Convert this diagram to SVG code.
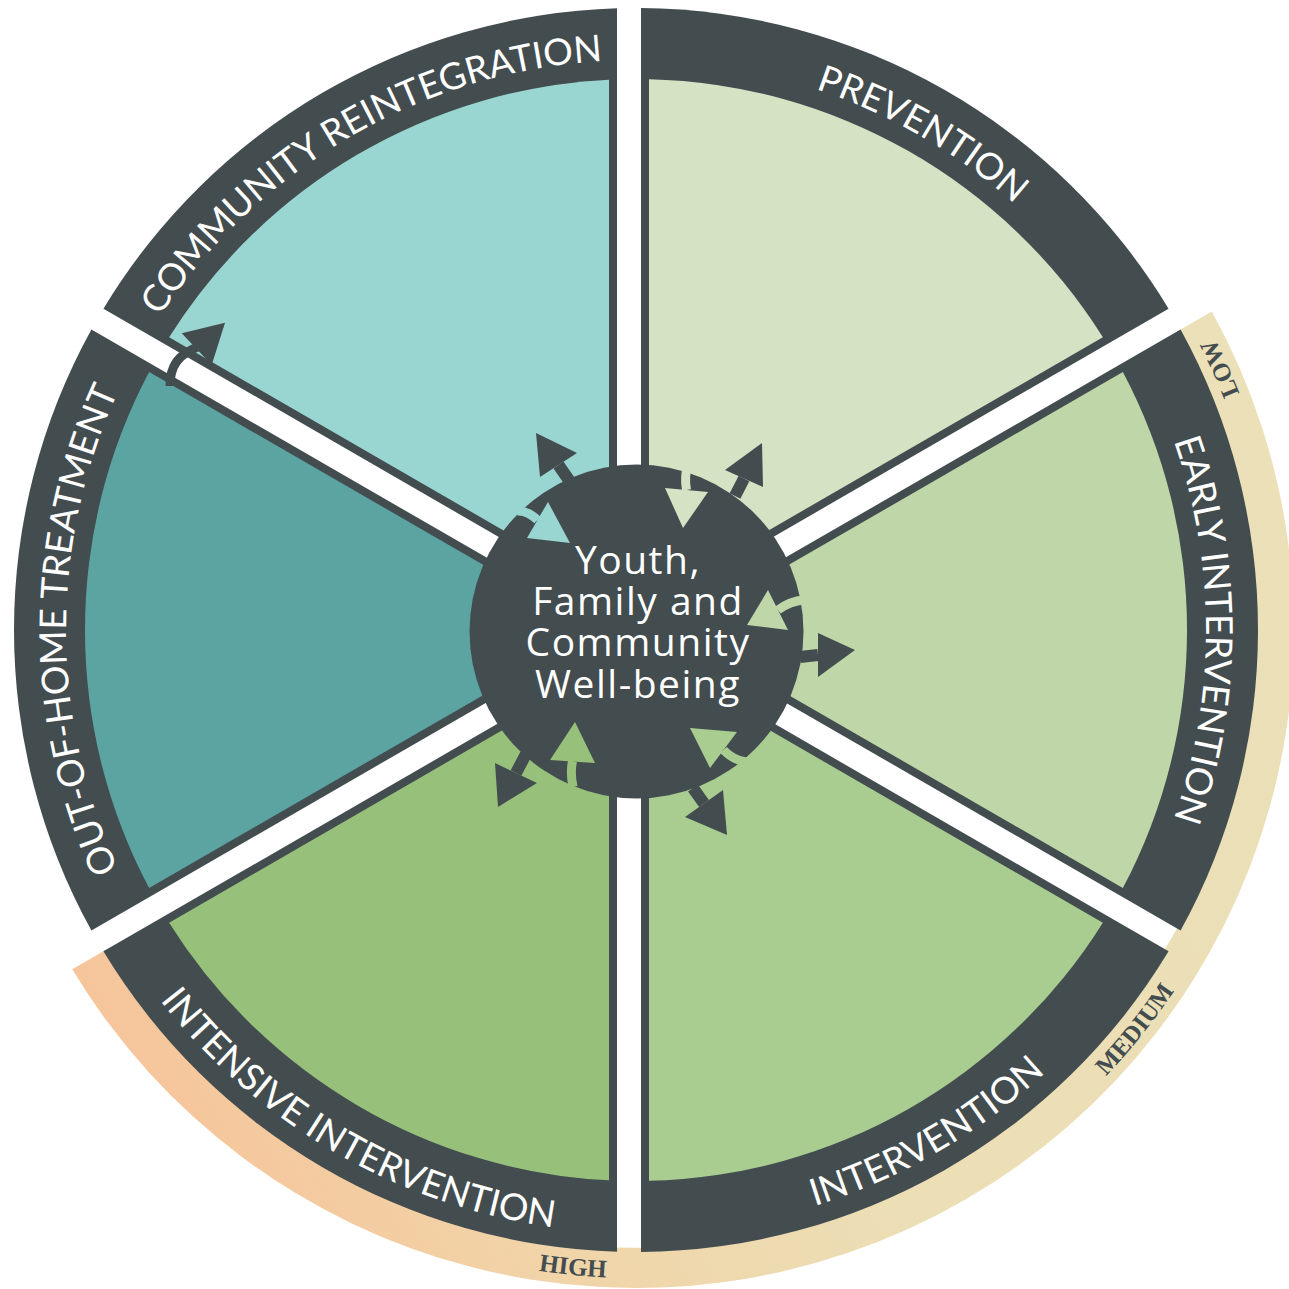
<svg xmlns="http://www.w3.org/2000/svg" xmlns:xlink="http://www.w3.org/1999/xlink" width="1289" height="1289" viewBox="0 0 1289 1289">
  <defs>
    <style>
      .dk{fill:#434D50}
      .lbl{font-family:Lato,"Open Sans","Liberation Sans",sans-serif;font-size:37px;fill:#fff}
      .lvl{font-family:"Liberation Serif",serif;font-weight:bold;font-size:25px;fill:#434D50}
      .ctr{font-family:"Open Sans","Noto Sans",sans-serif;font-weight:500;font-size:39px;fill:#fff;text-anchor:middle;letter-spacing:1.5px}
      .shaft{fill:none;stroke-width:9;stroke-linecap:butt}
    </style>
    <linearGradient id="bandGrad" gradientUnits="userSpaceOnUse" x1="1230" y1="330" x2="80" y2="960">
      <stop offset="0" stop-color="#EBE0B8"/>
      <stop offset="0.55" stop-color="#ECDEB5"/>
      <stop offset="0.8" stop-color="#F1D4A8"/>
      <stop offset="1" stop-color="#F6C59B"/>
    </linearGradient>
    <!-- label baselines: clockwise arcs (tops outward) and counter-clockwise arcs (tops inward) -->
    <path id="pPrev" d="M537.02,68.66 A570,570 0 0 1 1171.62,435.05"/>
    <path id="pComm" d="M100.38,435.05 A570,570 0 0 1 734.98,68.66"/>
    <path id="pOut" d="M199.36,996.39 A570,570 0 0 1 199.36,263.61"/>
    <path id="pEarly" d="M1072.64,263.61 A570,570 0 0 1 1072.64,996.39"/>
    <path id="pInt" d="M531.29,1223.84 A603,603 0 0 0 1202.63,836.24"/>
    <path id="pIntens" d="M69.37,836.24 A603,603 0 0 0 740.71,1223.84"/>
    <path id="pLow" d="M1280.6,696.6 A648,648 0 0 0 1015.96,105.09"/>
    <path id="pMed" d="M871.8,1233.6 A648,648 0 0 0 1276.6,727.6"/>
    <path id="pHigh" d="M258.3,1156.6 A648,648 0 0 0 903.3,1220.3"/>
  </defs>

  <rect width="1289" height="1289" fill="#fff"/>

  <!-- intensity band behind the lower half -->
  <g id="intensity-band">
    <path d="M1211.75,311.45 A658,658 0 0 1 72.25,969.34 L106.9,949.33 A618,618 0 0 0 1177.1,331.45 Z" fill="url(#bandGrad)"/>
    <text class="lvl" text-anchor="middle"><textPath href="#pLow" startOffset="50%">LOW</textPath></text>
    <text class="lvl" text-anchor="middle"><textPath href="#pMed" startOffset="50%">MEDIUM</textPath></text>
    <text class="lvl" text-anchor="middle"><textPath href="#pHigh" startOffset="50%">HIGH</textPath></text>
  </g>

  <g id="seg-prevention">
    <path class="dk" d="M641,613.26 L641,8.02 A622,622 0 0 1 1168.57,308.67 Z"/>
    <path fill="#D3E3C4" d="M649,599.4 L649,79.15 A551,551 0 0 1 1102.87,337.36 Z"/>
    <text class="lbl" text-anchor="middle"><textPath href="#pPrev" startOffset="50%">PREVENTION</textPath></text>
  </g>

  <g id="seg-early-intervention">
    <path class="dk" d="M660,630 L1180.57,329.45 A622,622 0 0 1 1180.57,930.55 Z"/>
    <path fill="#BFD7A8" d="M676,630 L1122.87,372 A551,551 0 0 1 1122.87,888 Z"/>
    <text class="lbl" text-anchor="middle"><textPath href="#pEarly" startOffset="50%">EARLY INTERVENTION</textPath></text>
  </g>

  <g id="seg-intervention">
    <path class="dk" d="M641,646.74 L1168.57,951.33 A622,622 0 0 1 641,1251.98 Z"/>
    <path fill="#A9CD90" d="M649,660.6 L1102.87,922.64 A551,551 0 0 1 649,1180.85 Z"/>
    <text class="lbl" text-anchor="middle"><textPath href="#pInt" startOffset="50%">INTERVENTION</textPath></text>
  </g>

  <g id="seg-intensive-intervention">
    <path class="dk" d="M617,654.83 L617,1251.71 A622,622 0 0 1 103.43,951.33 Z"/>
    <path fill="#97C17A" d="M609,668.7 L609,1180.34 A551,551 0 0 1 169.13,922.64 Z"/>
    <text class="lbl" text-anchor="middle"><textPath href="#pIntens" startOffset="50%">INTENSIVE INTERVENTION</textPath></text>
  </g>

  <g id="seg-out-of-home">
    <path class="dk" d="M612,630 L91.43,930.55 A622,622 0 0 1 91.43,329.45 Z"/>
    <path fill="#5CA4A2" d="M596,630 L149.13,888 A551,551 0 0 1 149.13,372 Z"/>
    <text class="lbl" text-anchor="middle"><textPath href="#pOut" startOffset="50%">OUT-OF-HOME TREATMENT</textPath></text>
  </g>

  <g id="seg-community-reintegration">
    <path class="dk" d="M617,605.17 L103.43,308.67 A622,622 0 0 1 617,8.29 Z"/>
    <path fill="#9AD6D1" d="M609,591.3 L169.13,337.36 A551,551 0 0 1 609,79.66 Z"/>
    <text class="lbl" text-anchor="middle"><textPath href="#pComm" startOffset="50%">COMMUNITY REINTEGRATION</textPath></text>
  </g>

  <g id="hub">
    <circle class="dk" cx="636.5" cy="631.5" r="167"/>
  </g>

  <g id="connectors">
    <!-- outward arrows (dark) -->
    <g stroke="#434D50" stroke-width="12" fill="none">
      <path d="M558.5,465 L575,489"/>
      <path d="M744,478.5 L735,496"/>
      <path d="M818,655 L800,657"/>
      <path d="M704,803.5 L693,788"/>
      <path d="M516,773 L526,754"/>
    </g>
    <g class="dk">
      <polygon points="536,433 577,453 540,477"/>
      <polygon points="762,443 725,470 763,487"/>
      <polygon points="855,650 818,633 818,677"/>
      <polygon points="727,835 685,817 723,790"/>
      <polygon points="498,807 495,763 537,783"/>
    </g>
    <!-- inward arrows (segment colours), shafts curving in across the hub rim -->
    <path class="shaft" stroke="#9AD6D1" d="M537.5,520 Q527,510 517,511"/>
    <polygon points="570,543 548,502 527,538" fill="#9AD6D1"/>
    <path class="shaft" stroke="#D3E3C4" d="M686.5,490 Q684,476 688,465"/>
    <polygon points="683,528 665,488 708,492" fill="#D3E3C4"/>
    <path class="shaft" stroke="#BFD7A8" d="M778,610 Q790,601 804,600"/>
    <polygon points="747,625 768,590 788,630" fill="#BFD7A8"/>
    <path class="shaft" stroke="#A9CD90" d="M723.5,750 Q733,760 746,762"/>
    <polygon points="690,728 737,732 710,768" fill="#A9CD90"/>
    <path class="shaft" stroke="#97C17A" d="M572.5,761 Q570,773 573,787"/>
    <polygon points="575,722 550,760 595,763" fill="#97C17A"/>
    <!-- rim arrow from out-of-home treatment into community reintegration -->
    <path d="M170,386 C170,366 178,354 200,346" stroke="#434D50" stroke-width="9" fill="none"/>
    <polygon class="dk" points="225,322.7 181.7,333.3 211.7,365"/>
  </g>

  <g id="hub-label">
    <text class="ctr" x="638" y="574">Youth,<tspan x="638" dy="41">Family and</tspan><tspan x="638" dy="41">Community</tspan><tspan x="638" dy="42">Well-being</tspan></text>
  </g>
</svg>
